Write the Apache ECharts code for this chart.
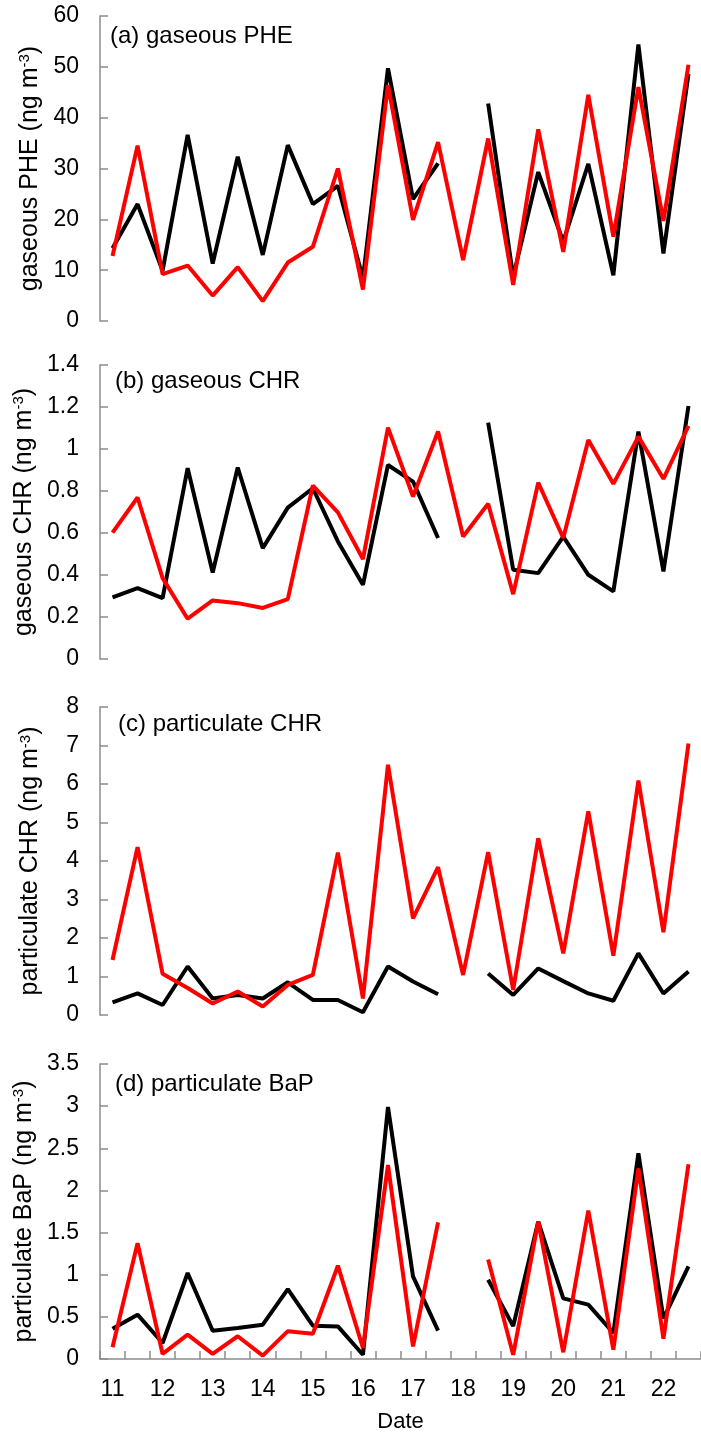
<!DOCTYPE html>
<html>
<head>
<meta charset="utf-8">
<script src="https://cdn.jsdelivr.net/npm/echarts@6/dist/echarts.min.js"></script>
<style>
html,body{margin:0;padding:0;background:#fff;}
#chart{width:701px;height:1437px;}
</style>
</head>
<body>
<div id="chart"></div>
<script>
// Dates (half-day steps)
var dates = ['11','11.5','12','12.5','13','13.5','14','14.5','15','15.5','16','16.5','17','17.5','18','18.5','19','19.5','20','20.5','21','21.5','22','22.5'];

// (a) gaseous PHE
var phe_black = [14.3,23.0,9.9,36.6,11.3,32.3,13.0,34.6,23.0,26.6,8.4,49.7,24.0,31.0,null,42.8,8.7,29.3,15.6,30.9,9.0,54.4,13.3,48.6];
var phe_red   = [12.8,34.5,9.2,10.9,5.0,10.6,3.9,11.5,14.6,30.0,6.2,46.4,19.9,35.2,12.0,35.9,7.1,37.7,13.6,44.5,16.6,46.0,19.7,50.4];

// (b) gaseous CHR
var gchr_black = [0.293,0.338,0.29,0.909,0.412,0.912,0.528,0.721,0.813,0.56,0.353,0.924,0.845,0.576,null,1.126,0.425,0.409,0.583,0.401,0.322,1.083,0.417,1.205];
var gchr_red   = [0.602,0.769,0.385,0.192,0.279,0.266,0.243,0.285,0.826,0.698,0.476,1.102,0.774,1.083,0.583,0.739,0.309,0.84,0.576,1.043,0.834,1.059,0.858,1.11];

// (c) particulate CHR
var pchr_black = [0.33,0.56,0.26,1.26,0.43,0.52,0.43,0.85,0.39,0.39,0.07,1.26,0.87,0.54,null,1.08,0.52,1.21,0.88,0.56,0.37,1.6,0.56,1.13];
var pchr_red   = [1.43,4.36,1.07,0.7,0.30,0.61,0.22,0.78,1.04,4.22,0.43,6.5,2.51,3.84,1.04,4.23,0.65,4.59,1.6,5.29,1.54,6.09,2.15,7.05];

// (d) particulate BaP
var bap_black = [0.36,0.526,0.19,1.02,0.336,0.368,0.407,0.83,0.395,0.387,0.05,2.99,0.98,0.336,null,0.94,0.39,1.63,0.72,0.645,0.31,2.44,0.48,1.1];
var bap_red   = [0.14,1.375,0.06,0.29,0.06,0.27,0.04,0.33,0.30,1.107,0.13,2.30,0.15,1.62,null,1.18,0.05,1.63,0.08,1.76,0.11,2.26,0.24,2.31];

// y-axis tick settings per panel
var yMax = [60, 1.4, 8, 3.5];
var yInterval = [10, 0.2, 1, 0.5];
var yNames = ['gaseous PHE (ng m{sup|-3})','gaseous CHR (ng m{sup|-3})','particulate CHR (ng m{sup|-3})','particulate BaP (ng m{sup|-3})'];
var panelTitles = ['(a) gaseous PHE','(b) gaseous CHR','(c) particulate CHR','(d) particulate BaP'];

var FONT = '"Liberation Sans", Arial, sans-serif';
var gridTops = [16, 365, 707, 1064];
var gridHeights = [305, 294, 308, 295];
var titlePos = [[110, 38], [115, 383], [118, 726], [115, 1086]];

var blacks = [phe_black, gchr_black, pchr_black, bap_black];
var reds = [phe_red, gchr_red, pchr_red, bap_red];

var grids = [], xAxes = [], yAxes = [], series = [], titles = [];
for (var i = 0; i < 4; i++) {
  grids.push({left: 100, right: -4, top: gridTops[i], height: gridHeights[i], containLabel: false});
  var last = (i === 3);
  xAxes.push({
    type: 'category', gridIndex: i, data: dates, boundaryGap: true,
    axisLine: {show: last, lineStyle: {color: '#8c8c8c', width: 1.5}},
    axisTick: {show: last, inside: true, length: 8, interval: 0, lineStyle: {color: '#8c8c8c', width: 1.5}},
    axisLabel: {show: last, interval: 1, margin: 19, fontSize: 23, color: '#000', fontFamily: FONT},
    name: last ? 'Date' : '', nameLocation: 'middle', nameGap: 52,
    nameTextStyle: {fontSize: 22, color: '#000', fontFamily: FONT},
    splitLine: {show: false}
  });
  yAxes.push({
    type: 'value', gridIndex: i, min: 0, max: yMax[i], interval: yInterval[i],
    axisLine: {show: true, lineStyle: {color: '#8c8c8c', width: 1.5}},
    axisTick: {show: true, inside: true, length: 8, lineStyle: {color: '#8c8c8c', width: 1.5}},
    axisLabel: {margin: 21, fontSize: 23, color: '#000', fontFamily: FONT},
    splitLine: {show: false},
    name: yNames[i], nameLocation: 'middle', nameGap: 57, nameRotate: 90,
    nameTextStyle: {fontSize: 25, color: '#000', fontFamily: FONT,
      rich: {sup: {fontSize: 15, color: '#000', fontFamily: FONT, verticalAlign: 'top', lineHeight: 14}}}
  });
  series.push({type: 'line', xAxisIndex: i, yAxisIndex: i, data: blacks[i], showSymbol: false, symbol: 'none',
    lineStyle: {color: '#000', width: 4}, itemStyle: {color: '#000'}, connectNulls: false, animation: false, z: 2});
  series.push({type: 'line', xAxisIndex: i, yAxisIndex: i, data: reds[i], showSymbol: false, symbol: 'none',
    lineStyle: {color: '#ff0000', width: 4}, itemStyle: {color: '#ff0000'}, connectNulls: false, animation: false, z: 3});
  titles.push({text: panelTitles[i], left: titlePos[i][0], top: titlePos[i][1] - 14,
    textStyle: {fontSize: 24, fontWeight: 'normal', color: '#000', fontFamily: FONT}, padding: 0});
}

var chart = echarts.init(document.getElementById('chart'), null, {renderer: 'canvas'});
chart.setOption({
  animation: false,
  backgroundColor: '#fff',
  title: titles,
  grid: grids,
  xAxis: xAxes,
  yAxis: yAxes,
  series: series
});
</script>
</body>
</html>
